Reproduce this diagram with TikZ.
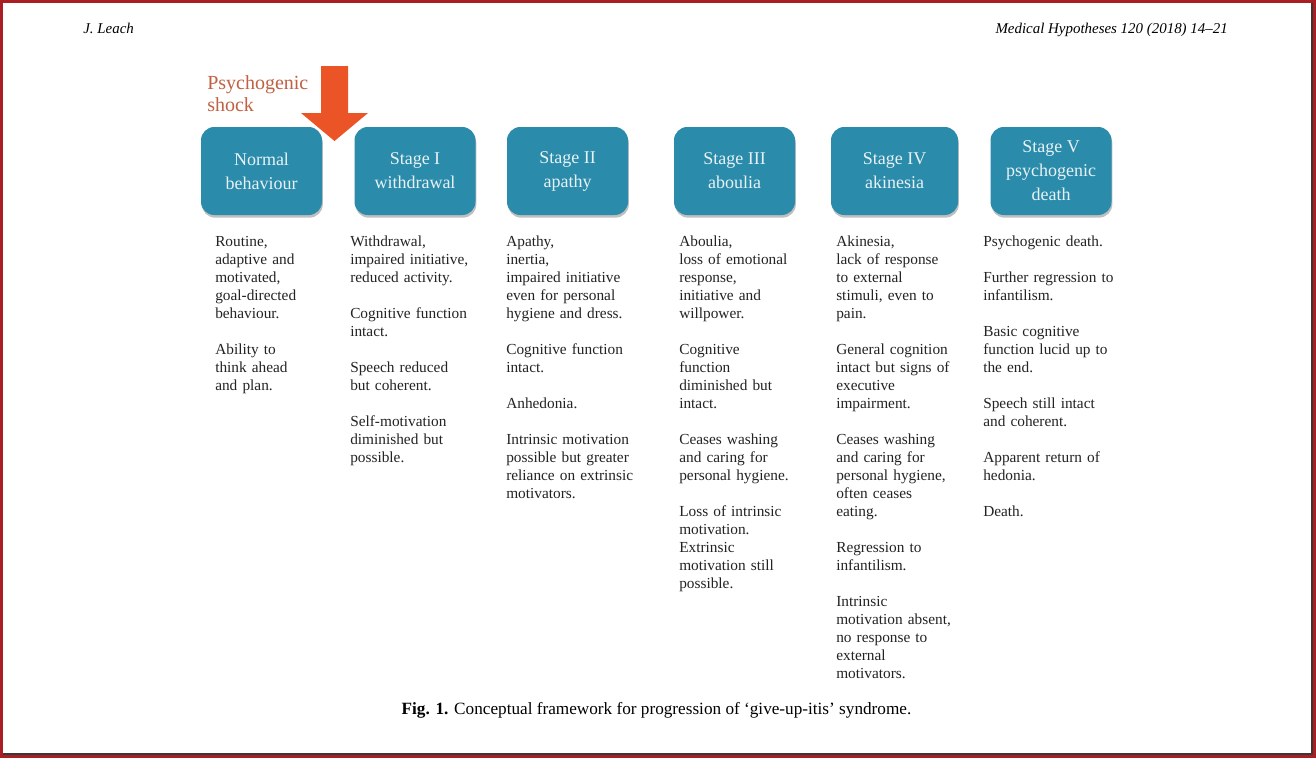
\documentclass[tikz,border=0pt]{standalone}
\usepackage{fontspec}
\setmainfont{Liberation Serif}
\usetikzlibrary{shadows}
\definecolor{framered}{RGB}{170,30,35}
\definecolor{pageshade}{RGB}{55,55,55}
\definecolor{boxteal}{RGB}{43,139,170}
\definecolor{boxtext}{RGB}{232,242,246}
\definecolor{shocktext}{RGB}{193,96,66}
\definecolor{arrowred}{RGB}{234,84,38}
\definecolor{bodygray}{RGB}{35,35,35}
\newcommand\bodyfont{\fontsize{11.5}{13.5}\selectfont}
\newcommand\stagefont{\fontsize{13.5}{18}\selectfont}
\begin{document}
\begin{tikzpicture}[x=0.75pt,y=-0.75pt,
  stagebox/.style={rounded corners=10pt, fill=boxteal, text=boxtext, align=center,
    font=\stagefont, minimum width=90.75pt, minimum height=66pt, inner sep=0pt,
    drop shadow={shadow xshift=0.6pt, shadow yshift=-2pt, fill=black, opacity=0.25}},
  col/.style={anchor=base west, align=left, text width=110pt, inner sep=0pt,
    font=\bodyfont, text=bodygray},
  header/.style={inner sep=0pt, font=\fontsize{11.2}{13}\selectfont\itshape, text=black}
]
\useasboundingbox (0,0) rectangle (1316,758);
% page frame
\fill[framered] (0,0) rectangle (1316,758);
\fill[pageshade] (3,3) rectangle (1313,755);
\fill[white] (3,3) rectangle (1311,753);

% running header
\node[header, anchor=base west] (author) at (83,33) {J. Leach};
\node[header, anchor=base east] (journal) at (1228,33) {Medical Hypotheses 120 (2018) 14--21};

% stage boxes
\node[stagebox] (normal) at (261.5,171) {Normal\\behaviour};
\node[stagebox] (s1) at (415,171) {Stage I\\withdrawal};
\node[stagebox] (s2) at (567.5,171) {Stage II\\apathy};
\node[stagebox] (s3) at (734.5,171) {Stage III\\aboulia};
\node[stagebox, minimum width=95.25pt] (s4) at (894.5,171) {Stage IV\\akinesia};
\node[stagebox] (s5) at (1051,171) {Stage V\\psychogenic\\death};

% psychogenic shock
\node[anchor=base west, align=left, text width=90pt, inner sep=0pt, text=shocktext,
  font=\fontsize{15}{16.5}\selectfont] (shock) at (207,89) {Psychogenic\\shock};
\fill[arrowred] (321,66) -- (348,66) -- (348,113) -- (368,113) -- (334.5,141)
  -- (301,113) -- (321,113) -- cycle;

% description columns
\node[col] (c0) at (215,246) {Routine,\\adaptive and\\motivated,\\goal-directed\\behaviour.\\[13.5pt]Ability to\\think ahead\\and plan.};
\node[col] (c1) at (350,246) {Withdrawal,\\impaired initiative,\\reduced activity.\\[13.5pt]Cognitive function\\intact.\\[13.5pt]Speech reduced\\but coherent.\\[13.5pt]Self-motivation\\diminished but\\possible.};
\node[col] (c2) at (506,246) {Apathy,\\inertia,\\impaired initiative\\even for personal\\hygiene and dress.\\[13.5pt]Cognitive function\\intact.\\[13.5pt]Anhedonia.\\[13.5pt]Intrinsic motivation\\possible but greater\\reliance on extrinsic\\motivators.};
\node[col] (c3) at (679,246) {Aboulia,\\loss of emotional\\response,\\initiative and\\willpower.\\[13.5pt]Cognitive\\function\\diminished but\\intact.\\[13.5pt]Ceases washing\\and caring for\\personal hygiene.\\[13.5pt]Loss of intrinsic\\motivation.\\Extrinsic\\motivation still\\possible.};
\node[col] (c4) at (836,246) {Akinesia,\\lack of response\\to external\\stimuli, even to\\pain.\\[13.5pt]General cognition\\intact but signs of\\executive\\impairment.\\[13.5pt]Ceases washing\\and caring for\\personal hygiene,\\often ceases\\eating.\\[13.5pt]Regression to\\infantilism.\\[13.5pt]Intrinsic\\motivation absent,\\no response to\\external\\motivators.};
\node[col] (c5) at (983,246) {Psychogenic death.\\[13.5pt]Further regression to\\infantilism.\\[13.5pt]Basic cognitive\\function lucid up to\\the end.\\[13.5pt]Speech still intact\\and coherent.\\[13.5pt]Apparent return of\\hedonia.\\[13.5pt]Death.};

% caption
\node[anchor=base, inner sep=0pt, font=\fontsize{12.9}{15}\selectfont, text=black] (caption) at (656.5,714)
  {\textbf{Fig. 1.} Conceptual framework for progression of `give-up-itis' syndrome.};
\end{tikzpicture}
\end{document}
